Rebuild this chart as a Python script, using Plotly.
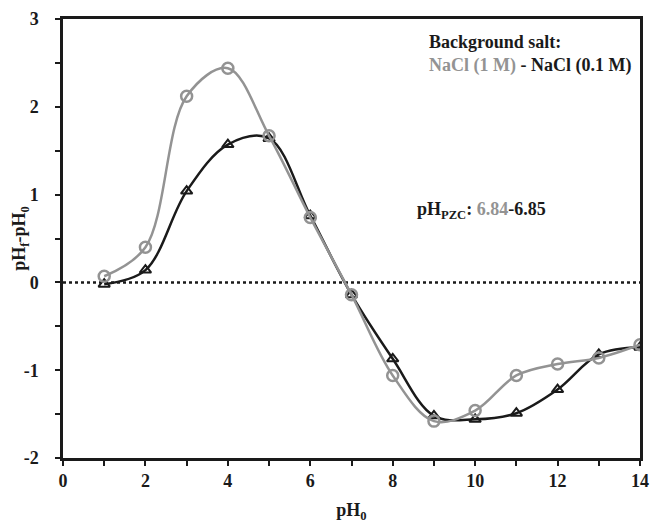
import plotly.graph_objects as go

ph0 = [1, 2, 3, 4, 5, 6, 7, 8, 9, 10, 11, 12, 13, 14]
nacl_1m = [0.07, 0.40, 2.12, 2.44, 1.67, 0.74, -0.14, -1.06, -1.58, -1.46, -1.06, -0.93, -0.86, -0.71]
nacl_01m = [-0.02, 0.14, 1.04, 1.57, 1.64, 0.76, -0.14, -0.87, -1.52, -1.56, -1.49, -1.22, -0.82, -0.74]

x_ticks = [0, 2, 4, 6, 8, 10, 12, 14]
x_ticklabels = ["0", "2", "4", "6", "8", "10", "12", "14"]
y_ticks = [-2, -1, 0, 1, 2, 3]
y_ticklabels = ["-2", "-1", "0", "1", "2", "3"]

GREY = "#939393"
INK = "#1a1a1a"
FONT = "Liberation Serif"

fig = go.Figure()
fig.add_shape(type="line", xref="x", yref="y", x0=0, x1=14, y0=0, y1=0,
              line=dict(color=INK, width=2.5, dash="dot"), layer="below")
fig.add_trace(go.Scatter(x=ph0, y=nacl_01m, mode="lines+markers", name="NaCl (0.1 M)",
                         line=dict(color=INK, width=2.5, shape="spline", smoothing=1),
                         marker=dict(symbol="triangle-up-open", size=10, color=INK,
                                     line=dict(width=2, color=INK))))
fig.add_trace(go.Scatter(x=ph0, y=nacl_1m, mode="lines+markers", name="NaCl (1 M)",
                         line=dict(color=GREY, width=2.5, shape="spline", smoothing=1),
                         marker=dict(symbol="circle-open", size=11, color=GREY,
                                     line=dict(width=2.5, color=GREY))))

axis_common = dict(showline=True, linecolor=INK, linewidth=2.5, mirror=True,
                   ticks="outside", ticklen=5, tickwidth=2, tickcolor=INK,
                   showgrid=False, zeroline=False, automargin=False,
                   tickfont=dict(family=FONT, size=18, color=INK, weight="bold"))

fig.update_xaxes(range=[0, 14], tickvals=x_ticks, ticktext=x_ticklabels,
                 minor=dict(dtick=1, tick0=0, ticks="outside", ticklen=5, tickwidth=2, tickcolor=INK),
                 title=dict(text="<b>pH<sub>0</sub></b>", font=dict(family=FONT, size=18, color=INK),
                            standoff=14),
                 **axis_common)
fig.update_yaxes(range=[-2, 3], tickvals=y_ticks, ticktext=y_ticklabels,
                 minor=dict(dtick=0.5, tick0=0, ticks="outside", ticklen=5, tickwidth=2, tickcolor=INK),
                 ticklabelstandoff=13,
                 **axis_common)

# y-axis title placed as a rotated annotation
fig.add_annotation(xref="paper", yref="paper", x=-0.074, y=0.5, xanchor="center", yanchor="middle",
                   textangle=-90, showarrow=False,
                   text="<b>pH<sub>f</sub>-pH<sub>0</sub></b>",
                   font=dict(family=FONT, size=18, color=INK))

fig.add_annotation(xref="paper", yref="paper", x=0.63, y=0.975, xanchor="left", yanchor="top",
                   align="left", showarrow=False,
                   text=("<b>Background salt:</b><br><b><span style='color:%s'>NaCl (1 M)</span>"
                         " - NaCl (0.1 M)</b>") % GREY,
                   font=dict(family=FONT, size=18, color=INK))
fig.add_annotation(xref="paper", yref="paper", x=0.61, y=0.564, xanchor="left", yanchor="middle",
                   align="left", showarrow=False,
                   text="<b>pH<sub>PZC</sub>: <span style='color:%s'>6.84</span>-6.85</b>" % GREY,
                   font=dict(family=FONT, size=18, color=INK))

fig.update_layout(width=651, height=526, showlegend=False,
                  margin=dict(l=63, r=11, t=19, b=68),
                  plot_bgcolor="white", paper_bgcolor="white",
                  font=dict(family=FONT, color=INK))

fig.write_html("out.html", config={"displayModeBar": False},
               post_script="document.body.style.margin='0';document.body.style.overflow='hidden';")
